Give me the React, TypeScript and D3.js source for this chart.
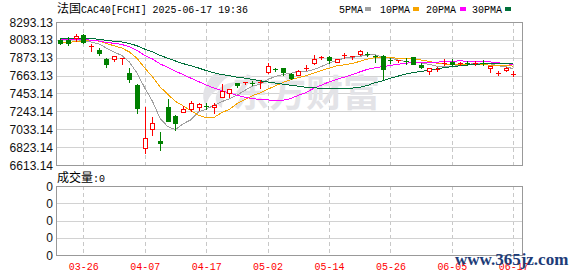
import React from 'react';
import * as d3 from 'd3';

const dates = [
  '03-21','03-24','03-25','03-26','03-27','03-28','03-31','04-01','04-02','04-03',
  '04-04','04-07','04-08','04-09','04-10','04-11','04-14','04-15','04-16','04-17',
  '04-22','04-23','04-24','04-25','04-28','04-29','04-30','05-02','05-05','05-06',
  '05-07','05-08','05-09','05-12','05-13','05-14','05-15','05-16','05-19','05-20',
  '05-21','05-22','05-23','05-26','05-27','05-28','05-29','05-30','06-02','06-03',
  '06-04','06-05','06-06','06-09','06-10','06-11','06-12','06-13','06-16','06-17',
];
const opens = [
  8085,8085,8100,8140,8005,7960,7855,7858,7866,7694,
  7557,6810,7040,6899,7290,7189,7236,7267,7290,7308,
  7290,7416,7463,7576,7578,7582,7588,7710,7739,7755,
  7688,7674,7752,7815,7870,7886,7823,7896,7890,7917,
  7923,7893,7890,7845,7836,7830,7880,7792,7722,7737,
  7802,7827,7800,7815,7804,7815,7757,7690,7725,7682,
];
const highs = [
  8105,8117,8158,8150,8040,7988,7874,7892,7872,7753,
  7569,7291,7177,7001,7385,7204,7306,7361,7342,7345,
  7338,7565,7510,7580,7586,7605,7611,7807,7755,7757,
  7690,7733,7784,7901,7894,7890,7864,7929,7898,7964,
  7941,7901,7901,7866,7845,7868,7885,7815,7749,7766,
  7855,7855,7823,7831,7831,7850,7782,7713,7764,7713,
];
const lows = [
  8030,8019,8075,8045,7950,7910,7770,7831,7804,7588,
  7224,6758,6962,6793,7130,7020,7234,7244,7255,7267,
  7228,7414,7412,7533,7565,7555,7522,7690,7718,7675,
  7620,7666,7728,7803,7862,7815,7820,7874,7862,7901,
  7894,7823,7627,7815,7823,7800,7798,7752,7684,7712,
  7792,7785,7790,7792,7790,7790,7706,7675,7723,7660,
];
const closes = [
  8043,8046,8130,8062,8012,7933,7800,7890,7870,7620,
  7283,6927,7107,6868,7134,7110,7267,7342,7330,7303,
  7322,7486,7502,7549,7584,7578,7593,7776,7735,7707,
  7641,7713,7757,7854,7882,7847,7862,7901,7894,7948,
  7918,7888,7745,7841,7843,7825,7800,7765,7747,7741,
  7810,7800,7806,7808,7810,7806,7778,7694,7753,7686,
];
// closes of the 29 sessions before the first visible candle (for the moving averages)
const priorCloses = [
  8027,8033,8053,8165,8178,8206,8206,8111,8122,8154,
  8091,8051,8143,8102,8111,8199,8047,8156,8197,8120,
  8086,7942,8030,7939,8028,8073,8171,8123,8094,
];

const yTickLabels = ['8293.13','8083.13','7873.13','7663.13','7453.14','7243.14','7033.14','6823.14','6613.14'];
const xTickDates = ['03-26','04-07','04-17','05-02','05-14','05-26','06-05','06-17'];
const volumeTickLabels = ['0','0','0','0','0'];
const maPeriods = [5, 10, 20, 30];
const maNames = ['5PMA', '10PMA', '20PMA', '30PMA'];
const maColors = ['#a0a0a0', '#f7a400', '#ff00ff', '#00703a'];

const RED = '#ff0000';
const GREEN = '#008000';
const MONO = '"Liberation Mono", "DejaVu Sans Mono", monospace';
const CJK = '"Noto Sans CJK SC", sans-serif';
const SANS = '"Liberation Sans", Arial, sans-serif';

export default function App() {
  const L = 56, R = 522, T = 22, B = 165, VT = 186, VB = 255;
  const x = d3.scalePoint<string>().domain(dates).range([60.3, 513.3]);
  const y = d3.scaleLinear().domain([6613.14, 8293.13]).range([B, T]);
  const yv = d3.scaleLinear().domain([0, 4]).range([VT, VB]);
  const snap = (v: number) => Math.round(v) + 0.5;

  const full = [...priorCloses, ...closes];
  const maSeries = maPeriods.map((n) =>
    dates.map((d, i) => {
      const end = i + priorCloses.length;
      const slice = full.slice(end - n + 1, end + 1);
      return { d, v: d3.mean(slice) as number };
    })
  );
  const line = d3
    .line<{ d: string; v: number }>()
    .x((p) => (x(p.d) as number))
    .y((p) => y(p.v));

  const legendX = [339, 380, 426, 472];
  const legendBoxX = [365, 413, 460, 505];

  return (
    <svg
      width={578}
      height={276}
      style={{ position: 'fixed', left: 0, top: 0, background: '#fff' }}
    >
      <rect x={0} y={0} width={578} height={276} fill="#fff" />
      {/* title */}
      <text x={57} y={13} fontFamily={CJK} fontSize={12} fill="#000">法国</text>
      <text x={81} y={12.5} fontFamily={MONO} fontSize={11} fill="#000" textLength={167} lengthAdjust="spacingAndGlyphs">
        CAC40[FCHI] 2025-06-17 19:36
      </text>
      {/* legend */}
      {maNames.map((nm, i) => (
        <g key={nm}>
          <text x={legendX[i]} y={12.5} fontFamily={MONO} fontSize={11} fill="#000" textLength={nm.length * 6} lengthAdjust="spacingAndGlyphs">{nm}</text>
          <rect x={legendBoxX[i]} y={7} width={6} height={4} fill={maColors[i]} />
        </g>
      ))}

      {/* main gridlines */}
      {yTickLabels.map((lab) => {
        const yy = snap(y(+lab));
        return <line key={'g' + lab} x1={L} x2={R} y1={yy} y2={yy} stroke="#d2d2d2" strokeWidth={1} />;
      })}
      {xTickDates.map((d) => {
        const xx = snap(x(d) as number);
        return (
          <g key={'v' + d}>
            <line x1={xx} x2={xx} y1={T} y2={B} stroke="#c8c8c8" strokeDasharray="4,3" />
            <line x1={xx} x2={xx} y1={VT} y2={VB} stroke="#c8c8c8" strokeDasharray="4,3" />
          </g>
        );
      })}

      {/* watermark */}
      <g fill="#e3e3e7" stroke="none">
        <path d="M214,74 C204,84 200,96 206,106 C208,98 212,92 220,88 C214,96 214,104 222,108 C222,98 228,88 238,82 C228,82 220,86 216,92 C218,86 222,80 230,76 C224,74 218,74 214,74 Z" />
        <text x={232} y={107} fontFamily={CJK} fontSize={37} fontWeight="bold">东方财富</text>
      </g>

      {/* y labels */}
      {yTickLabels.map((lab) => (
        <text key={'yl' + lab} x={53} y={y(+lab) + 4.5} textAnchor="end" fontFamily={SANS} fontSize={12} fill="#111">
          {lab}
        </text>
      ))}

      {/* moving averages */}
      {maSeries.map((s, i) => (
        <path key={'ma' + i} d={line(s) as string} fill="none" stroke={maColors[i]} strokeWidth={1} shapeRendering="crispEdges" />
      ))}

      {/* candles */}
      {dates.map((d, i) => {
        const o = opens[i], h = highs[i], l = lows[i], c = closes[i];
        const up = c >= o;
        const col = up ? RED : GREEN;
        const cx = Math.round(x(d) as number);
        const top = Math.round(y(Math.max(o, c)));
        const bot = Math.round(y(Math.min(o, c)));
        const bh = bot - top;
        const wick = <line x1={cx + 0.5} x2={cx + 0.5} y1={Math.round(y(h))} y2={Math.round(y(l)) + 1} stroke={col} strokeWidth={1} />;
        if (bh <= 1) {
          return (
            <g key={'c' + d}>
              {wick}
              <line x1={cx - 2} x2={cx + 3} y1={top + 0.5} y2={top + 0.5} stroke={col} strokeWidth={1} />
            </g>
          );
        }
        return (
          <g key={'c' + d}>
            {wick}
            {up ? (
              <rect x={cx - 1.5} y={top + 0.5} width={4} height={bh} fill="#fff" stroke={col} strokeWidth={1} />
            ) : (
              <rect x={cx - 2} y={top} width={5} height={bh + 1} fill={col} />
            )}
          </g>
        );
      })}

      {/* main frame */}
      <rect x={L + 0.5} y={T + 0.5} width={R - L} height={B - T} fill="none" stroke="#999" strokeWidth={1} />

      {/* volume panel */}
      <text x={57} y={182} fontFamily={CJK} fontSize={12} fill="#000">成交量</text>
      <text x={93} y={181.5} fontFamily={MONO} fontSize={11} fill="#000" textLength={12} lengthAdjust="spacingAndGlyphs">:0</text>
      {volumeTickLabels.map((lab, i) => {
        const yy = yv(i);
        return (
          <g key={'vl' + i}>
            {i > 0 && i < 4 && <line x1={L} x2={R} y1={snap(yy)} y2={snap(yy)} stroke="#d2d2d2" />}
            <text x={53} y={yy + 4.5} textAnchor="end" fontFamily={SANS} fontSize={12} fill="#111">{lab}</text>
          </g>
        );
      })}
      <rect x={L + 0.5} y={VT + 0.5} width={R - L} height={VB - VT} fill="none" stroke="#999" strokeWidth={1} />

      {/* x labels */}
      {xTickDates.map((d) => (
        <text key={'xl' + d} x={(x(d) as number) + 0.5} y={270} textAnchor="middle" fontFamily={MONO} fontSize={11} fill={RED} textLength={30} lengthAdjust="spacingAndGlyphs">
          {d}
        </text>
      ))}

      {/* site watermark */}
      <text x={455} y={265} fontFamily={'"Liberation Serif", "DejaVu Serif", serif'} fontWeight="bold" fontSize={17} fill="#1d3c78">
        www.365jz.com
      </text>
    </svg>
  );
}
